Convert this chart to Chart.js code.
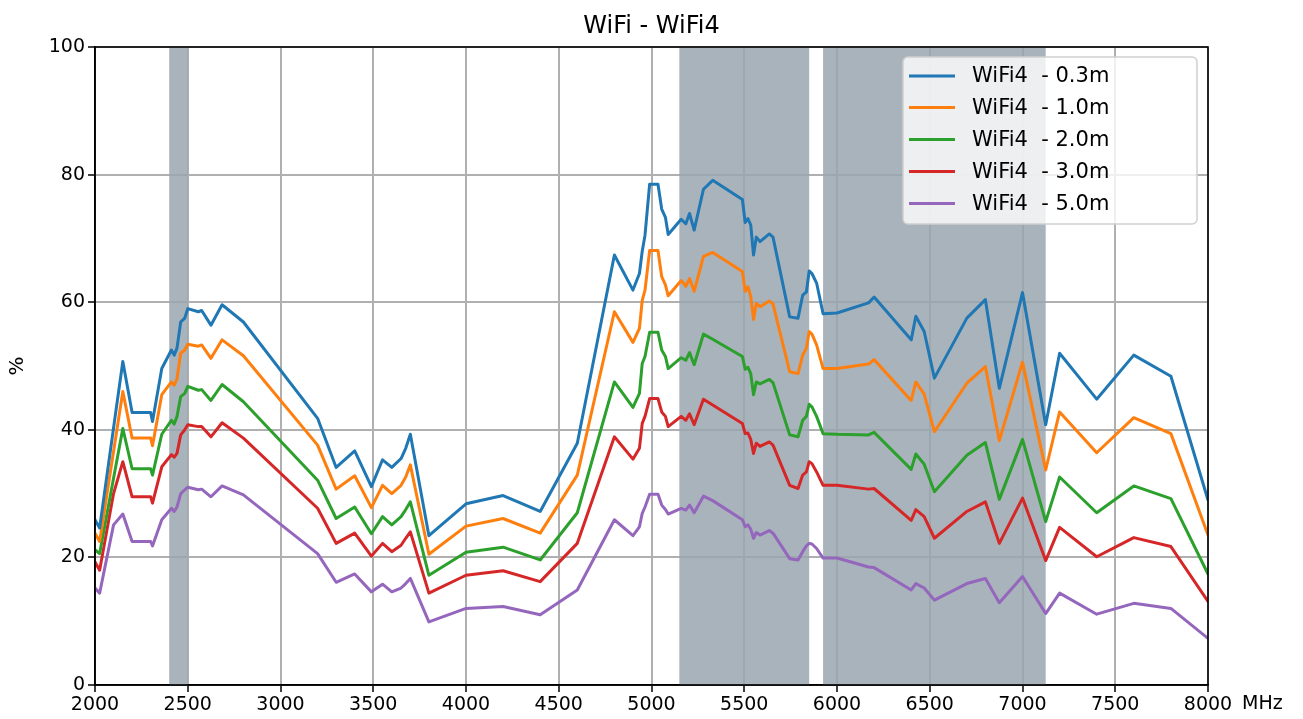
<!DOCTYPE html>
<html>
<head>
<meta charset="utf-8">
<script src="https://cdn.jsdelivr.net/npm/chart.js@4.4.1/dist/chart.umd.min.js"></script>
<style>
  html, body { margin: 0; padding: 0; background: #fff; }
  #wrap { width: 1303px; height: 719px; }
</style>
</head>
<body>
<div id="wrap"><canvas id="c" width="1303" height="719"></canvas></div>
<script>
const chartTitle = "WiFi - WiFi4";
const xUnit = "MHz";
const yLabel = "%";
const xTicks = [2000, 2500, 3000, 3500, 4000, 4500, 5000, 5500, 6000, 6500, 7000, 7500, 8000];
const yTicks = [0, 20, 40, 60, 80, 100];
const bands = [[2400, 2500], [5150, 5850], [5925, 7125]];
const seriesNames = ["WiFi4  - 0.3m", "WiFi4  - 1.0m", "WiFi4  - 2.0m", "WiFi4  - 3.0m", "WiFi4  - 5.0m"];
const seriesColors = ["#1f77b4", "#ff7f0e", "#2ca02c", "#d62728", "#9467bd"];

const freq = [2000, 2025, 2100, 2150, 2200, 2300, 2310, 2360, 2412, 2427, 2442, 2462, 2484, 2500, 2557, 2575, 2625, 2685, 2800, 3200,
  3300, 3400, 3490, 3550, 3600, 3650, 3675, 3700, 3800, 4000, 4200, 4400, 4600, 4800, 4900, 4935, 4950, 4965, 4990, 5035,
  5055, 5075, 5090, 5160, 5185, 5205, 5230, 5280, 5330, 5490, 5505, 5520, 5535, 5550, 5565, 5585, 5635, 5655, 5745, 5790,
  5815, 5835, 5850, 5865, 5890, 5925, 6000, 6170, 6200, 6400, 6425, 6470, 6525, 6700, 6800, 6875, 7000, 7125, 7200, 7400,
  7600, 7800, 8000];

const d03 = [25.9, 24.6, 40.3, 50.7, 42.7, 42.7, 41.3, 49.6, 52.5, 51.7, 52.8, 56.9, 57.5, 59.0, 58.5, 58.7, 56.4, 59.6, 56.9, 41.8,
  34.1, 36.7, 31.1, 35.3, 34.1, 35.5, 37.1, 39.3, 23.4, 28.4, 29.7, 27.2, 37.9, 67.4, 61.9, 64.5, 68.0, 70.5, 78.5, 78.5,
  74.6, 73.3, 70.6, 73.0, 72.3, 73.9, 71.3, 77.7, 79.1, 76.1, 72.5, 73.1, 72.1, 67.4, 70.2, 69.5, 70.7, 70.2, 57.7, 57.5,
  61.1, 61.6, 64.9, 64.5, 63.0, 58.2, 58.3, 59.9, 60.8, 54.1, 57.8, 55.4, 48.1, 57.5, 60.4, 46.5, 61.5, 40.8, 52.0, 44.8,
  51.7, 48.4, 29.0];
const d10 = [23.8, 22.5, 36.6, 46.0, 38.7, 38.7, 37.5, 45.5, 47.5, 47.0, 48.0, 52.0, 52.5, 53.4, 53.1, 53.3, 51.2, 54.1, 51.6, 37.6,
  30.7, 32.8, 27.8, 31.3, 30.0, 31.3, 32.6, 34.5, 20.5, 24.9, 26.1, 23.8, 32.9, 58.5, 53.7, 55.9, 60.3, 61.9, 68.1, 68.1,
  64.0, 62.7, 61.0, 63.4, 62.5, 63.7, 61.7, 67.2, 67.8, 64.8, 61.7, 62.4, 60.9, 57.3, 59.8, 59.3, 60.2, 59.7, 49.1, 48.8,
  51.7, 52.8, 55.4, 55.0, 53.3, 49.6, 49.6, 50.3, 51.0, 44.6, 47.5, 45.6, 39.7, 47.3, 49.9, 38.3, 50.6, 33.7, 42.8, 36.4,
  41.9, 39.4, 23.5];
const d20 = [21.2, 20.6, 32.4, 40.2, 33.9, 33.9, 32.9, 39.3, 41.5, 40.9, 42.1, 45.2, 45.7, 46.8, 46.2, 46.3, 44.6, 47.1, 44.4, 32.1,
  26.1, 27.9, 23.7, 26.4, 25.1, 26.4, 27.5, 28.7, 17.2, 20.8, 21.6, 19.6, 27.0, 47.5, 43.5, 45.7, 50.4, 51.5, 55.3, 55.3,
  52.5, 51.5, 49.6, 51.3, 50.9, 52.1, 50.2, 55.0, 54.2, 51.5, 49.5, 49.8, 48.8, 45.5, 47.5, 47.2, 47.9, 47.4, 39.2, 38.9,
  41.5, 42.1, 44.0, 43.6, 42.1, 39.4, 39.3, 39.2, 39.6, 33.8, 36.2, 34.6, 30.3, 36.0, 38.0, 29.1, 38.5, 25.6, 32.6, 27.0,
  31.2, 29.2, 17.4];
const d30 = [19.3, 18.0, 30.0, 35.0, 29.5, 29.5, 28.5, 34.2, 36.1, 35.7, 36.3, 39.2, 40.0, 40.8, 40.5, 40.5, 38.9, 41.1, 38.7, 27.7,
  22.2, 23.8, 20.2, 22.2, 20.9, 21.9, 23.0, 24.0, 14.4, 17.2, 17.9, 16.2, 22.2, 38.9, 35.4, 37.1, 41.0, 42.1, 44.9, 44.9,
  42.8, 42.1, 40.5, 42.1, 41.5, 42.5, 40.8, 44.8, 43.9, 41.0, 39.4, 39.5, 38.5, 36.3, 37.9, 37.4, 38.1, 37.6, 31.3, 30.8,
  32.9, 33.4, 35.0, 34.7, 33.4, 31.3, 31.3, 30.7, 30.8, 25.8, 27.5, 26.4, 23.0, 27.2, 28.7, 22.2, 29.3, 19.5, 24.7, 20.1,
  23.1, 21.7, 13.1];
const d50 = [15.2, 14.4, 25.1, 26.8, 22.5, 22.5, 21.8, 25.9, 27.7, 27.2, 27.9, 30.0, 30.6, 31.0, 30.6, 30.7, 29.5, 31.2, 29.8, 20.6,
  16.1, 17.4, 14.6, 15.8, 14.6, 15.2, 15.9, 16.7, 9.9, 12.0, 12.3, 11.0, 14.9, 25.9, 23.4, 24.8, 26.9, 27.9, 29.9, 29.9,
  28.2, 27.5, 26.8, 27.7, 27.4, 28.2, 27.0, 29.6, 28.9, 25.9, 24.8, 25.1, 24.4, 23.0, 23.9, 23.5, 24.2, 23.8, 19.8, 19.6,
  20.9, 21.8, 22.2, 22.1, 21.4, 19.9, 19.9, 18.5, 18.4, 14.9, 15.9, 15.2, 13.3, 15.9, 16.7, 12.9, 17.0, 11.2, 14.4, 11.1,
  12.8, 12.0, 7.3];

const seriesValues = [d03, d10, d20, d30, d50];
const FONT = "'DejaVu Sans', 'Liberation Sans', sans-serif";

const datasets = seriesValues.map((vals, i) => ({
  label: seriesNames[i],
  data: freq.map((f, j) => ({ x: f, y: vals[j] })),
  borderColor: seriesColors[i],
  backgroundColor: seriesColors[i],
  borderWidth: 3,
  pointRadius: 0,
  tension: 0,
  fill: false,
  borderJoinStyle: 'round',
  borderCapStyle: 'round'
}));

const decor = {
  id: 'decor',
  beforeDatasetsDraw(chart) {
    const { ctx, chartArea: a, scales: { x } } = chart;
    ctx.save();
    ctx.fillStyle = 'rgba(154,166,175,0.85)';
    bands.forEach(([lo, hi]) => {
      const x0 = x.getPixelForValue(lo), x1 = x.getPixelForValue(hi);
      ctx.fillRect(x0, a.top, x1 - x0, a.bottom - a.top);
    });
    ctx.restore();
  },
  afterDatasetsDraw(chart) {
    const { ctx, chartArea: a } = chart;
    ctx.save();
    // spines
    ctx.strokeStyle = '#000';
    ctx.lineWidth = 1.6;
    ctx.strokeRect(a.left, a.top, a.right - a.left, a.bottom - a.top);
    // legend
    const lx = 903, ly = 57, lw = 294, lh = 167, r = 5;
    ctx.beginPath();
    ctx.moveTo(lx + r, ly);
    ctx.arcTo(lx + lw, ly, lx + lw, ly + lh, r);
    ctx.arcTo(lx + lw, ly + lh, lx, ly + lh, r);
    ctx.arcTo(lx, ly + lh, lx, ly, r);
    ctx.arcTo(lx, ly, lx + lw, ly, r);
    ctx.closePath();
    ctx.fillStyle = 'rgba(255,255,255,0.8)';
    ctx.fill();
    ctx.strokeStyle = '#d0d0d0';
    ctx.lineWidth = 1.5;
    ctx.stroke();
    const rows = [76, 107.5, 139.5, 171.5, 203.5];
    ctx.font = "21px " + FONT;
    ctx.textBaseline = 'middle';
    ctx.textAlign = 'left';
    seriesNames.forEach((n, i) => {
      ctx.strokeStyle = seriesColors[i];
      ctx.lineWidth = 3;
      ctx.beginPath();
      ctx.moveTo(909, rows[i]);
      ctx.lineTo(955, rows[i]);
      ctx.stroke();
      ctx.fillStyle = '#000';
      ctx.fillText(n, 972, rows[i] + 1);
    });
    // title, unit, y label
    ctx.fillStyle = '#000';
    ctx.font = "24px " + FONT;
    ctx.textAlign = 'center';
    ctx.textBaseline = 'middle';
    ctx.fillText(chartTitle, (a.left + a.right) / 2, 27);
    ctx.font = "19px " + FONT;
    ctx.textAlign = 'left';
    ctx.textBaseline = 'top';
    ctx.fillText(xUnit, a.right + 34, a.bottom + 10);
    ctx.translate(18, 366);
    ctx.rotate(-Math.PI / 2);
    ctx.textAlign = 'center';
    ctx.textBaseline = 'middle';
    ctx.font = "20px " + FONT;
    ctx.fillText(yLabel, 0, 0);
    ctx.restore();
  }
};

new Chart(document.getElementById('c'), {
  type: 'line',
  data: { datasets },
  plugins: [decor],
  options: {
    responsive: false,
    animation: false,
    devicePixelRatio: 1,
    layout: { padding: { left: 0, right: 95, top: 47, bottom: 0 } },
    plugins: { legend: { display: false }, title: { display: false }, tooltip: { enabled: false } },
    scales: {
      x: {
        type: 'linear',
        min: 2000, max: 8000,
        afterBuildTicks(s) { s.ticks = xTicks.map(v => ({ value: v })); },
        afterFit(s) { s.height = 34; },
        grid: { color: '#b0b0b0', lineWidth: 2, tickColor: '#000', tickLength: 7, tickWidth: 1.5 },
        border: { color: '#000', width: 1.6 },
        ticks: { color: '#000', font: { family: FONT, size: 19 }, padding: 2, maxRotation: 0, autoSkip: false,
                 callback: v => String(v) }
      },
      y: {
        type: 'linear',
        min: 0, max: 100,
        afterBuildTicks(s) { s.ticks = yTicks.map(v => ({ value: v })); },
        afterFit(s) { s.width = 95; },
        grid: { color: '#b0b0b0', lineWidth: 2, tickColor: '#000', tickLength: 7, tickWidth: 1.5 },
        border: { color: '#000', width: 1.6 },
        ticks: { color: '#000', font: { family: FONT, size: 19 }, padding: 3, callback: v => String(v) }
      }
    }
  }
});
</script>
</body>
</html>
